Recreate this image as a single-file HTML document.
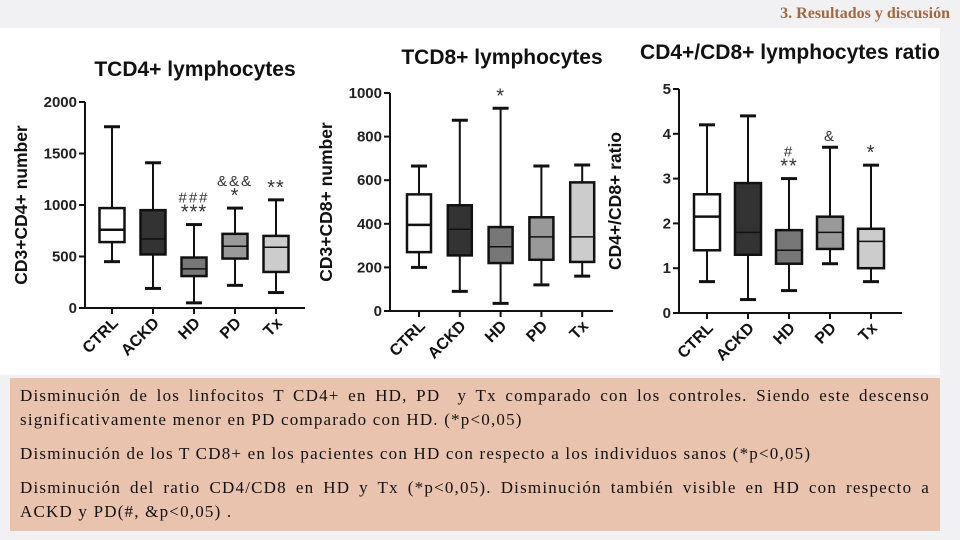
<!DOCTYPE html>
<html><head><meta charset="utf-8"><style>
body{margin:0;width:960px;height:540px;background:#f1f1f3;position:relative;overflow:hidden;font-family:"Liberation Sans",sans-serif}
#hdr{position:absolute;right:10px;top:5px;font:bold 16px "Liberation Serif",serif;color:#a5673f}
#panel{position:absolute;left:0;top:28px;width:940px;height:347px;background:#fff}
#txt{position:absolute;left:10px;top:378px;width:910px;height:141px;padding:6px 10px 6px 10px;background:#e9c3ae;font:17px "Liberation Serif",serif;color:#111;line-height:24px;letter-spacing:1.2px}
#txt p{margin:0 0 10px 0;text-align:justify}
#txt span.j{display:block;text-align:justify;text-align-last:justify}
svg{position:absolute;left:0;top:0}
</style></head><body>
<div id="hdr">3. Resultados y discusión</div>
<div id="panel"></div>
<svg id="s" width="960" height="540"></svg>
<div id="txt">
<p><span class="j">Disminución de los linfocitos T CD4+ en HD, PD &nbsp;y Tx comparado con los controles. Siendo este descenso</span>significativamente menor en PD comparado con HD. (*p&lt;0,05)</p>
<p>Disminución de los T CD8+ en los pacientes con HD con respecto a los individuos sanos (*p&lt;0,05)</p>
<p><span class="j">Disminución del ratio CD4/CD8 en HD y Tx (*p&lt;0,05). Disminución también visible en HD con respecto a</span>ACKD y PD(#, &amp;p&lt;0,05) .</p>
</div>
<script>
const categories=["CTRL","ACKD","HD","PD","Tx"];
const cd4Min=[450,190,50,220,150],cd4Q1=[640,520,310,480,350],cd4Med=[760,670,380,600,590],cd4Q3=[970,950,490,720,700],cd4Max=[1760,1410,810,970,1050];
const cd4Ticks=[0,500,1000,1500,2000];
const cd4Ann=["","","###\n***","&&&\n*","**"];
const cd8Min=[200,90,35,120,160],cd8Q1=[270,255,220,235,225],cd8Med=[395,375,295,340,340],cd8Q3=[535,485,385,430,590],cd8Max=[665,875,930,665,670];
const cd8Ticks=[0,200,400,600,800,1000];
const cd8Ann=["","","*","",""];
const rMin=[0.7,0.3,0.5,1.1,0.7],rQ1=[1.4,1.3,1.1,1.43,1.0],rMed=[2.15,1.8,1.4,1.8,1.6],rQ3=[2.65,2.9,1.85,2.15,1.88],rMax=[4.2,4.4,3.0,3.7,3.3];
const rTicks=[0,1,2,3,4,5];
const rAnn=["","","#\n**","&","*"];
const fills=["#fff","#333","#777","#999","#ccc"];
const NS="http://www.w3.org/2000/svg",S=document.getElementById("s");
function mk(t,a,p){const e=document.createElementNS(NS,t);for(const k in a)e.setAttribute(k,a[k]);(p||S).appendChild(e);return e;}
function chart(o){
 const g=mk("g",{});
 
 
 const y=v=>o.y0-(v-o.t[0])/(o.t[o.t.length-1]-o.t[0])*(o.y0-o.y1);
 const x=i=>o.x0+o.c0+i*o.step;
 const tt=mk("text",{x:o.tx,y:o.ty,"text-anchor":"middle","font-size":21,"font-weight":"bold",fill:"#111"},g);tt.textContent=o.title;
 
 
 const yl=mk("text",{transform:`translate(${o.x0-58},${(o.y0+o.y1)/2}) rotate(-90)`,"text-anchor":"middle","font-size":17.5,"font-weight":"bold",fill:"#111"},g);yl.textContent=o.ylab;
 
 
 mk("line",{x1:o.x0,y1:y(o.t[o.t.length-1]),x2:o.x0,y2:o.y0,stroke:"#111","stroke-width":2},g);
 mk("line",{x1:o.x0-6,y1:o.y0,x2:o.xe,y2:o.y0,stroke:"#111","stroke-width":2},g);
 o.t.forEach(v=>{mk("line",{x1:o.x0-6,x2:o.x0,y1:y(v),y2:y(v),stroke:"#111","stroke-width":2},g);
  const l=mk("text",{x:o.x0-8,y:y(v)+5,"text-anchor":"end","font-size":15,"font-weight":"bold",fill:"#222"},g);l.textContent=v;
  
  });
 const w=o.bw;
 categories.forEach((c,i)=>{
  const cx=x(i);
  mk("line",{x1:cx,x2:cx,y1:o.y0,y2:o.y0+6,stroke:"#111","stroke-width":2},g);
  const xl=mk("text",{transform:`translate(${cx+7},${o.y0+16}) rotate(-45)`,"text-anchor":"end","font-size":16,"font-weight":"bold",fill:"#111"},g);xl.textContent=c;
  
  
  const bg=mk("g",{},g);
  
  
  mk("line",{x1:cx,x2:cx,y1:y(o.mx[i]),y2:y(o.mn[i]),stroke:"#111","stroke-width":2},bg);
  mk("line",{x1:cx-8,x2:cx+8,y1:y(o.mx[i]),y2:y(o.mx[i]),stroke:"#111","stroke-width":3},bg);
  mk("line",{x1:cx-8,x2:cx+8,y1:y(o.mn[i]),y2:y(o.mn[i]),stroke:"#111","stroke-width":3},bg);
  mk("rect",{x:cx-w/2,y:y(o.q3[i]),width:w,height:y(o.q1[i])-y(o.q3[i]),fill:fills[i],stroke:"#111","stroke-width":2.5},bg);
  mk("line",{x1:cx-w/2,x2:cx+w/2,y1:y(o.md[i]),y2:y(o.md[i]),stroke:"#111","stroke-width":i==0?2.5:1.5},bg);
  if(o.ann[i]){const ls=o.ann[i].split("\n");ls.forEach((s,k)=>{
   const a=mk("text",{x:cx,y:y(o.mx[i])-6-(ls.length-1-k)*16,"text-anchor":"middle","font-size":s.indexOf("*")>=0?20:15,fill:"#333","letter-spacing":s.indexOf("*")>=0?1:2},g);a.textContent=s;
   
   });}
 });
}
chart({name:"cd4-chart",title:"TCD4+ lymphocytes",tx:195,ty:76,ylab:"CD3+CD4+ number",x0:85,xe:305,c0:27,step:41,bw:25,y0:308,y1:102,t:cd4Ticks,mn:cd4Min,q1:cd4Q1,md:cd4Med,q3:cd4Q3,mx:cd4Max,ann:cd4Ann});
chart({name:"cd8-chart",title:"TCD8+ lymphocytes",tx:502,ty:64,ylab:"CD3+CD8+ number",x0:390,xe:613,c0:29,step:40.8,bw:24,y0:311,y1:93,t:cd8Ticks,mn:cd8Min,q1:cd8Q1,md:cd8Med,q3:cd8Q3,mx:cd8Max,ann:cd8Ann});
chart({name:"ratio-chart",title:"CD4+/CD8+ lymphocytes ratio",tx:790,ty:59,ylab:"CD4+/CD8+ ratio",x0:679,xe:902,c0:28,step:41,bw:26,y0:313,y1:89,t:rTicks,mn:rMin,q1:rQ1,md:rMed,q3:rQ3,mx:rMax,ann:rAnn});
</script>
</body></html>
